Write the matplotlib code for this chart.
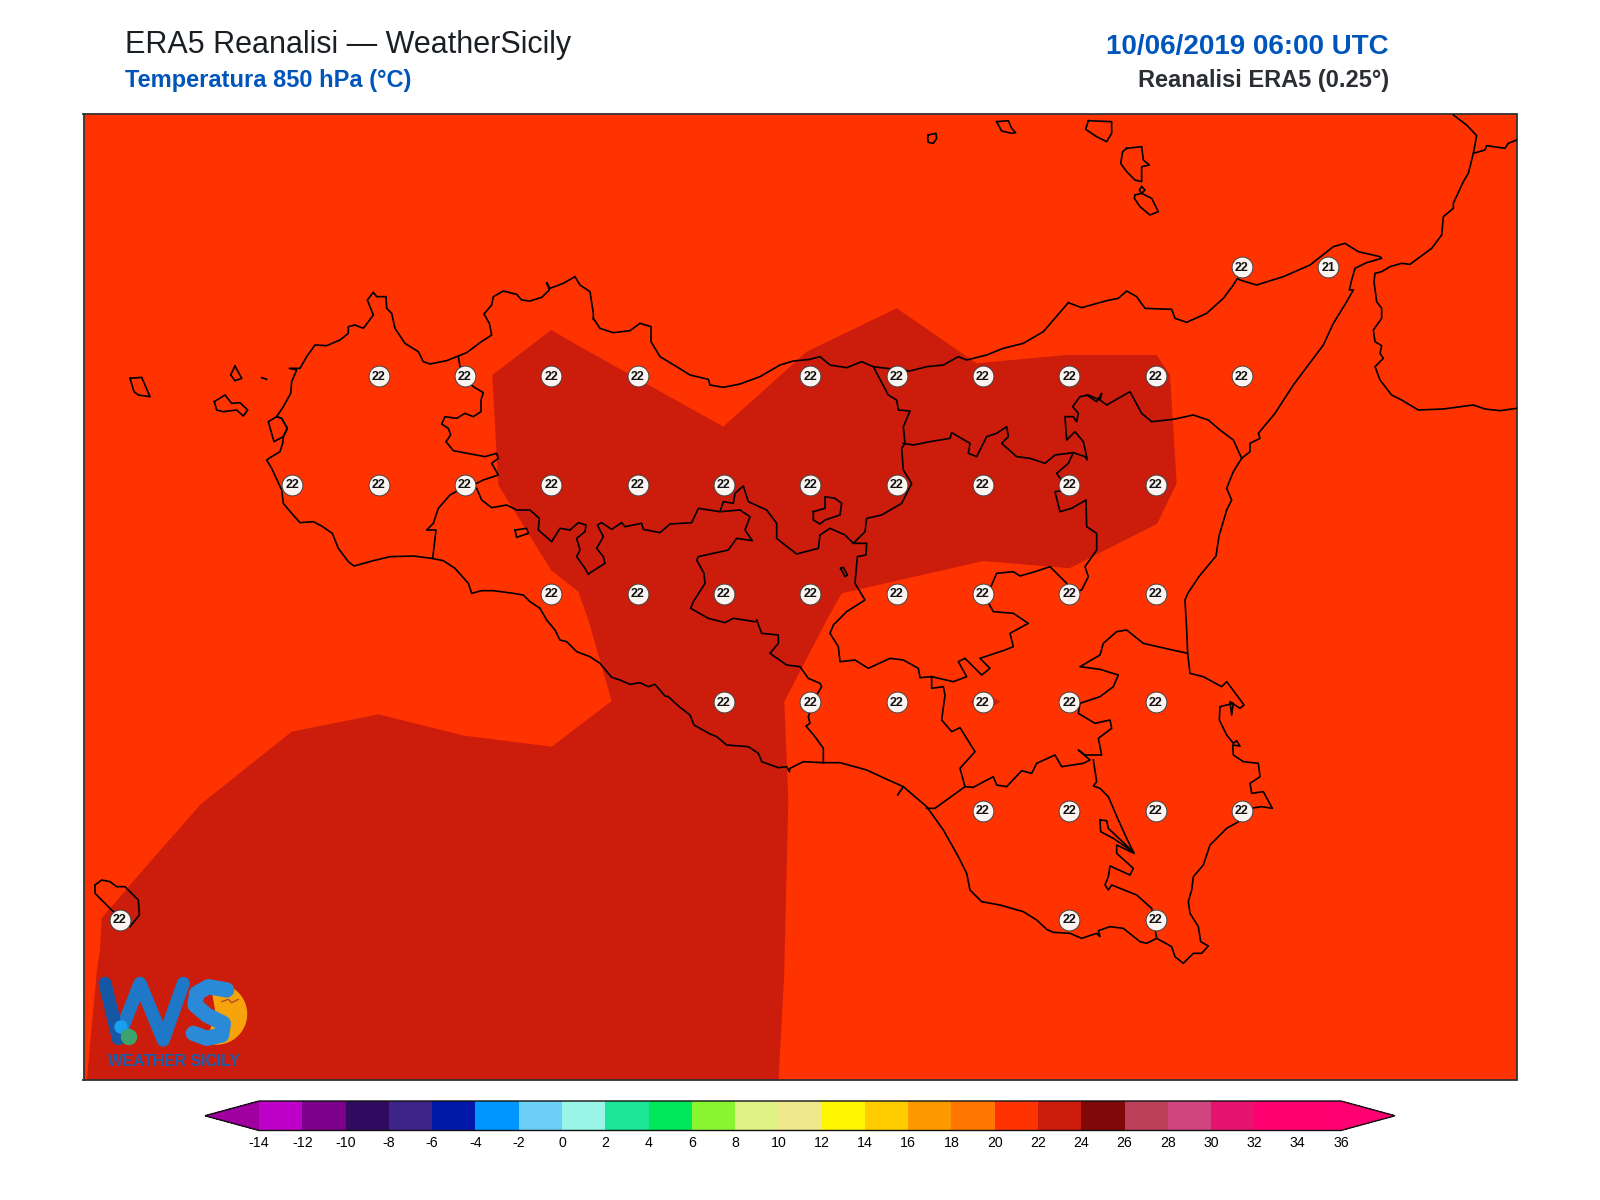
import numpy as np
import matplotlib
matplotlib.use("Agg")
import matplotlib.pyplot as plt
from matplotlib.colors import ListedColormap, BoundaryNorm
from matplotlib.cm import ScalarMappable
from matplotlib.patches import Circle, Wedge

plt.rcParams['font.family'] = ['Liberation Sans', 'DejaVu Sans']
plt.rcParams['axes.unicode_minus'] = False

# temperature classes for the colour bar
levels = list(range(-14, 38, 2))
level_colors = ['#BE00C8', '#7D008C', '#2F0A5E', '#3E2388', '#0019A8', '#0096FF',
                '#6CCFF6', '#98F5E8', '#1BE596', '#00E85A', '#88F530', '#E0F285',
                '#F0E98C', '#FFF500', '#FFCC00', '#FF9900', '#FF7700', '#FF3300',
                '#CC1C0C', '#800808', '#BC3F5A', '#D04480', '#E6146E', '#FF0070',
                '#FF0070']
under_color = '#A000A0'
over_color = '#FF0073'
base_color = '#FF3300'
warm_color = '#CC1C0C'

# grid point labels, one row per latitude
row_lats = [38.25, 38.0, 37.75, 37.5, 37.25, 37.0, 36.75]
row_lons = [[15.25, 15.5],
            [12.75, 13.0, 13.25, 13.5, 14.0, 14.25, 14.5, 14.75, 15.0, 15.25],
            [12.5, 12.75, 13.0, 13.25, 13.5, 13.75, 14.0, 14.25, 14.5, 14.75, 15.0],
            [13.25, 13.5, 13.75, 14.0, 14.25, 14.5, 14.75, 15.0],
            [13.75, 14.0, 14.25, 14.5, 14.75, 15.0],
            [14.5, 14.75, 15.0, 15.25],
            [12.0, 14.75, 15.0]]
row_vals = [[22, 21],
            [22] * 10,
            [22] * 11,
            [22] * 8,
            [22] * 6,
            [22] * 4,
            [22] * 3]

# 22-24 C area, map pixels
warm_area = [(492.3, 375), (551.3, 330), (580, 346.7), (723.3, 426.7), (806.7, 351.7),
             (896.7, 308.3), (976.7, 363.3), (1066.7, 355), (1156.7, 355), (1170, 375),
             (1176.7, 483.3), (1157, 524), (1069.3, 568.3), (983.3, 561), (841.7, 593.3),
             (826.7, 620), (784.3, 701.7), (788.3, 800), (784, 980), (778.5, 1081),
             (86.7, 1081), (97, 969), (100, 950), (101.7, 918), (151.7, 860), (201, 804),
             (291.8, 731.6), (378.6, 714.3), (464.3, 735.7), (551.7, 746.7), (611.7, 701),
             (588.3, 620), (578.3, 591.7), (551, 570), (498.3, 485)]
warm_spot = [(970, 701.7), (983, 693), (1000.7, 701.7), (983, 712)]

w_coast = [(1380, 1105), (1350, 1085), (1330, 1065), (1300, 1060), (1240, 1052), (1205, 1052), (1175, 1060),
           (1165, 1030), (1125, 985), (1090, 962), (1055, 955), (1000, 948), (930, 950), (880, 962), (822, 978),
           (805, 965), (775, 925), (757, 880), (725, 858), (700, 845), (660, 848), (635, 820), (610, 790),
           (605, 750), (575, 685), (560, 660), (575, 650), (600, 635), (608, 610), (610, 590), (622, 565),
           (605, 535), (590, 530), (610, 500), (632, 460), (635, 425), (650, 390), (628, 385), (660, 385),
           (680, 350), (705, 315), (740, 317), (780, 300), (805, 280), (805, 260), (825, 255), (850, 265),
           (880, 225), (862, 180), (880, 157), (890, 170), (918, 170), (920, 205), (935, 220), (945, 265),
           (975, 310), (1015, 335), (1030, 365), (1050, 372), (1100, 362), (1160, 338), (1200, 308), (1235, 285),
           (1228, 250), (1212, 222), (1235, 195), (1240, 170), (1270, 153), (1310, 163), (1325, 180), (1350, 183),
           (1385, 172), (1408, 150), (1400, 128), (1410, 145), (1450, 130), (1485, 110), (1500, 135), (1530, 155),
           (1540, 220), (1540, 238)]
stagnone = [(590, 530), (565, 545), (572, 570), (582, 605), (610, 590), (622, 565), (605, 535), (590, 530)]
n_coast = [(40, 55), (60, 85), (100, 98), (150, 92), (180, 70), (213, 80), (213, 125), (240, 170), (290, 200),
           (330, 225), (385, 238), (390, 255), (430, 262), (480, 252), (540, 230), (600, 195), (640, 183),
           (690, 178), (720, 170), (750, 195), (800, 203), (845, 185), (880, 200), (920, 205), (990, 213),
           (1040, 200), (1090, 195), (1135, 170), (1160, 180), (1220, 165), (1270, 145), (1330, 130), (1390, 95),
           (1465, 8)]
ne_coast = [(205, 578), (245, 593), (320, 572), (355, 565), (380, 543), (410, 560), (435, 595), (515, 598),
            (525, 625), (560, 637), (620, 610), (670, 565), (700, 525), (712, 505), (720, 510), (770, 525),
            (850, 500), (930, 465), (1000, 410), (1035, 400), (1075, 425), (1140, 440), (1145, 445), (1100, 458),
            (1065, 475), (1055, 510), (1048, 540), (1060, 540), (1040, 575), (1000, 640), (970, 705), (925, 765),
            (880, 825), (825, 910), (775, 970), (780, 985), (750, 1000), (750, 1025), (725, 1045), (700, 1085),
            (680, 1135), (695, 1170), (680, 1200)]
etna_coast = [(1226.7, 510), (1219, 536), (1216, 556), (1199, 576.5), (1196.7, 580), (1188, 593), (1185, 600)]
se_coast = [(1275, 60), (1280, 150), (1283, 220), (1290, 280), (1330, 290), (1385, 320), (1400, 305), (1430, 345),
            (1452, 375), (1440, 385), (1410, 365), (1415, 405), (1420, 370), (1380, 380), (1378, 420), (1400, 465),
            (1420, 490), (1430, 482), (1440, 498), (1418, 495), (1420, 525), (1450, 545), (1495, 550), (1500, 590),
            (1470, 610), (1475, 640), (1510, 635), (1537, 685), (1505, 680), (1470, 685), (1445, 720), (1400, 745),
            (1350, 795), (1330, 855), (1300, 890), (1295, 930), (1285, 965), (1290, 1000), (1315, 1040), (1322, 1085),
            (1345, 1098), (1325, 1120), (1300, 1120), (1270, 1150), (1245, 1130), (1235, 1100), (1190, 1075),
            (1160, 1090), (1140, 1085), (1090, 1045), (1050, 1040), (1015, 1052), (1020, 1070), (1010, 1060),
            (965, 1075), (930, 1060), (880, 1057), (860, 1048), (830, 1020), (790, 995), (720, 975), (665, 965),
            (630, 930), (620, 880), (595, 830), (550, 750), (500, 680), (430, 620), (385, 600), (320, 570),
            (240, 548), (190, 548)]
s_coast = [(850, 428), (790, 425), (750, 445), (748, 455), (740, 440), (715, 443), (665, 425), (655, 400), (625, 380),
           (560, 375), (530, 350), (510, 342), (462, 315), (450, 285), (420, 262), (385, 230), (375, 228), (345, 193),
           (325, 200), (300, 188), (270, 193), (240, 180), (215, 172), (180, 130), (150, 110), (110, 95), (80, 65),
           (60, 60), (45, 30), (20, 0), (0, -35)]
tp_border = [(1135, 350), (1140, 380), (1155, 410), (1180, 440), (1210, 458), (1203, 480), (1203, 515), (1180, 530),
             (1155, 520), (1130, 535), (1095, 530), (1085, 552), (1105, 565), (1112, 585), (1098, 605), (1120, 632),
             (1215, 650), (1250, 640), (1255, 655), (1235, 670), (1255, 705), (1210, 720), (1190, 730), (1155, 740),
             (1110, 765), (1075, 805), (1060, 850), (1040, 870), (1068, 870), (1058, 955)]
pa_border_w = [(1190, 745), (1205, 780), (1235, 803), (1280, 795), (1310, 810), (1350, 810), (1378, 835), (1375, 870),
               (1415, 905), (1440, 865), (1470, 870), (1495, 848), (1518, 855), (1515, 875), (1490, 895), (1500, 930),
               (1490, 950), (1515, 985), (1525, 1003)]
pa_border_e = [(25, 822), (75, 790), (70, 770), (50, 745), (70, 710), (52, 675), (65, 668), (95, 688), (125, 668),
               (135, 680), (185, 670), (190, 688), (240, 698), (270, 672), (335, 668), (355, 625), (420, 635), (430, 605),
               (460, 610), (465, 580), (490, 558), (505, 605), (560, 630), (590, 670), (590, 715), (615, 735), (650, 762),
               (715, 745), (720, 705), (750, 685), (795, 705), (820, 730), (855, 695), (860, 655), (905, 645), (965, 610),
               (995, 550), (970, 510), (965, 445), (975, 430), (970, 380), (990, 333), (955, 330), (950, 300), (925, 285),
               (880, 200)]
ag_border = [(420, 635), (480, 630), (510, 650), (495, 690), (517, 722), (470, 715), (445, 750), (355, 770), (350, 780),
             (372, 820), (375, 850), (340, 905), (332, 925), (385, 955), (435, 968), (460, 955), (525, 965)]
ag_border_s = [(650, 0), (665, 40), (715, 45), (715, 70), (690, 100), (740, 135), (780, 140), (805, 175), (840, 190),
               (845, 200), (830, 225), (805, 290), (810, 310), (798, 318), (825, 350), (850, 385), (850, 428)]
cl_border = [(820, 730), (860, 730), (858, 765), (832, 770), (825, 850), (855, 900), (800, 935), (760, 975), (750, 1000),
             (775, 1040), (780, 1085), (825, 1080), (865, 1105), (930, 1075), (970, 1080), (1015, 1105), (1020, 1133),
             (1055, 1130), (1120, 1145), (1160, 1130), (1135, 1085), (1155, 1075), (1205, 1125), (1230, 1105), (1200, 1075),
             (1275, 1050), (1300, 1040), (1290, 1000), (1345, 970), (1300, 940), (1240, 935), (1215, 890), (1235, 855),
             (1250, 820), (1300, 815), (1320, 828), (1365, 815), (1410, 800), (1460, 850), (1468, 880)]
en_border = [(970, 430), (1000, 435), (1050, 425), (1110, 415), (1115, 398), (1170, 430), (1165, 460), (1190, 470),
             (1220, 410), (1250, 400), (1280, 380), (1285, 410), (1265, 430), (1310, 470), (1350, 475), (1395, 490),
             (1425, 465), (1480, 458), (1515, 470), (1522, 480), (1510, 425), (1485, 395), (1460, 420), (1455, 350),
             (1480, 350), (1490, 365), (1495, 340), (1478, 320), (1500, 290), (1525, 285), (1560, 300)]
me_border = [(300, 870), (320, 885), (390, 845), (425, 910), (455, 935), (520, 928), (580, 915), (625, 930), (660, 960),
             (700, 990), (725, 1045)]
me_border_w = [(300, 870), (305, 850), (290, 875), (260, 855)]
ct_border = [(1480, 458), (1465, 490), (1430, 520), (1465, 570), (1425, 575), (1440, 635), (1475, 625), (1518, 600),
             (1520, 680), (1550, 700), (1550, 750), (1515, 800), (1525, 830), (1505, 870), (1468, 880)]
cl_border_s = [(515, 290), (515, 325), (550, 320), (555, 345), (545, 420), (575, 455), (600, 443), (645, 515), (600, 565),
               (615, 620), (525, 685), (500, 685)]
rg_border = [(615, 620), (640, 622), (700, 590), (710, 615), (740, 620), (785, 572), (815, 580), (830, 550), (885, 525),
             (905, 560), (970, 550), (990, 540), (955, 510), (975, 525), (1025, 525), (1015, 475), (1055, 445), (1050, 420),
             (1005, 430), (955, 400), (960, 370), (1020, 350), (1060, 320), (1075, 285), (1020, 268), (960, 260), (1020, 225),
             (1030, 190), (1070, 155), (1100, 150), (1150, 190), (1215, 205), (1283, 220)]
sr_border = [(1000, 540), (1010, 605), (1000, 618), (1020, 625), (1045, 650), (1075, 720), (1100, 775), (1122, 820),
             (1070, 795), (1070, 820), (1120, 865), (1110, 885), (1050, 858), (1045, 890), (1035, 915), (1045, 930),
             (1055, 915), (1130, 945), (1175, 985), (1190, 1075)]
sr_lake = [(1020, 720), (1040, 722), (1045, 745), (1122, 818), (1060, 775), (1022, 755), (1020, 720)]
coast_tick = [(430, 620), (413, 645)]
pa_enclave = [(700, 635), (735, 625), (735, 590), (765, 595), (785, 610), (780, 645), (735, 660), (720, 672), (700, 660), (700, 635)]
tp_enclave = [(1305, 870), (1340, 865), (1345, 880), (1310, 892), (1305, 870)]
lake = [(782, 805), (790, 802), (802, 825), (795, 830), (782, 805)]
marettimo = [(150, 415), (185, 412), (210, 470), (175, 465), (162, 455), (150, 415)]
levanzo = [(465, 378), (485, 415), (465, 422), (452, 405), (465, 378)]
favignana = [(403, 485), (435, 465), (455, 490), (480, 488), (503, 510), (490, 528), (470, 510), (430, 515), (410, 510), (403, 485)]
formica = [(545, 413), (560, 418)]
alicudi = [(85, 75), (108, 70), (110, 85), (100, 100), (85, 97), (83, 85), (85, 75)]
filicudi = [(290, 35), (325, 32), (335, 55), (347, 68), (335, 70), (305, 63), (290, 35)]
salina = [(565, 32), (635, 35), (635, 70), (620, 95), (590, 80), (557, 58), (565, 32)]
lipari = [(680, 115), (725, 110), (730, 150), (748, 165), (725, 170), (725, 215), (705, 210), (680, 185), (662, 160), (668, 125), (680, 115)]
vulcanello = [(725, 230), (735, 240), (725, 250), (718, 240), (725, 230)]
vulcano = [(705, 255), (725, 250), (755, 265), (775, 305), (750, 315), (720, 290), (703, 265), (705, 255)]
pantelleria = [(45, 75), (65, 60), (90, 65), (110, 80), (135, 80), (175, 120), (178, 165), (150, 200), (95, 150), (65, 120), (45, 100), (45, 75)]
calabria = [(280, 30), (320, 60), (350, 92), (340, 145), (325, 205), (310, 230), (280, 295), (280, 310), (250, 335), (245, 390),
            (215, 430), (150, 478), (125, 475), (90, 485), (65, 500), (45, 505), (42, 530), (50, 590), (65, 610), (65, 640),
            (40, 675), (45, 710), (65, 722), (60, 745), (70, 760), (45, 785), (60, 825), (95, 870), (125, 885), (175, 915),
            (250, 912), (340, 900), (375, 912), (420, 917), (470, 910)]
calabria_top = [(340, 145), (375, 135), (380, 122), (435, 130), (445, 115), (470, 105)]

lines = [(80, 240, w_coast), (80, 240, stagnone), (580, 300, n_coast), (1000, 110, ne_coast), (0, 0, etna_coast),
         (760, 580, se_coast), (540, 620, s_coast), (80, 240, tp_border), (80, 240, pa_border_w), (580, 300, pa_border_e),
         (580, 300, ag_border), (540, 620, ag_border_s), (580, 300, cl_border), (580, 300, en_border), (1000, 110, me_border),
         (1000, 110, me_border_w), (580, 300, ct_border), (760, 580, cl_border_s), (760, 580, rg_border), (760, 580, sr_border),
         (760, 580, sr_lake), (760, 580, coast_tick), (580, 300, pa_enclave), (80, 240, tp_enclave), (580, 300, lake),
         (80, 240, marettimo), (80, 240, levanzo), (80, 240, favignana), (80, 240, formica), (900, 110, alicudi),
         (900, 110, filicudi), (900, 110, salina), (900, 110, lipari), (900, 110, vulcanello), (900, 110, vulcano),
         (80, 860, pantelleria), (1360, 105, calabria), (1360, 105, calabria_top)]

# logo strokes, 3x tile at (80, 940)
logo_w_left = [(75, 130), (115, 295)]
logo_w_rest = [(115, 295), (180, 130), (250, 300), (310, 130)]
logo_s = [(440, 150), (385, 140), (350, 160), (345, 195), (380, 225), (430, 250), (425, 285), (380, 295), (340, 280)]
logo_bird = [(425, 185), (445, 178), (455, 188), (475, 178)]


def to_map(x0, y0, pts):
    pts = np.array(pts, dtype=float)
    if x0 == 0 and y0 == 0:
        return pts[:, 0], pts[:, 1]
    return x0 + pts[:, 0] / 3, y0 + pts[:, 1] / 3


def lon_x(lon):
    return 292.3 + (lon - 12.5) * 345.3


def lat_y(lat):
    return 376 + (38.0 - lat) * 435


W, H = 1600, 1200
fig = plt.figure(figsize=(16, 12), dpi=100, facecolor='white')
L, R, T, B = 83.5, 1516.5, 114, 1080
ax = fig.add_axes([L / W, 1 - B / H, (R - L) / W, (B - T) / H])
ax.set_xlim(L, R)
ax.set_ylim(B, T)
ax.set_facecolor(base_color)
ax.set_xticks([])
ax.set_yticks([])
for s in ax.spines.values():
    s.set_color('#333333')
    s.set_linewidth(1.3)

ax.fill(*zip(*warm_area), color=warm_color, lw=0, zorder=1)
ax.fill(*zip(*warm_spot), color=warm_color, lw=0, zorder=1)

for x0, y0, pts in lines:
    xs, ys = to_map(x0, y0, pts)
    ax.plot(xs, ys, color='black', lw=1.2, solid_joinstyle='round', zorder=3)

for lat, lons, vals in zip(row_lats, row_lons, row_vals):
    for lon, v in zip(lons, vals):
        x, y = lon_x(lon), lat_y(lat)
        ax.scatter([x], [y], s=225, facecolor='#FBF4F1', edgecolor='#444444', linewidth=0.7, zorder=4)
        ax.text(x, y + 0.5, str(v), ha='center', va='center', fontsize=9, fontweight='bold', color='#111111', zorder=5)

# logo
ax.add_patch(Wedge((216.5, 1014), 30, -100, 110, color='#F7A30C', zorder=6))
ax.add_patch(Circle((121, 1027), 6, color='#1AA0EE', zorder=8))
ax.add_patch(Circle((129, 1037), 7.5, color='#3BA36B', zorder=8))
for pts, col, lw in [(logo_w_rest, '#1F77C8', 9.5), (logo_w_left, '#1557A5', 9.5), (logo_s, '#2A8AD8', 11), (logo_bird, '#B5472A', 1)]:
    xs, ys = to_map(80, 940, pts)
    ax.plot(xs, ys, color=col, lw=lw, solid_capstyle='round', solid_joinstyle='round', zorder=7)
ax.text(174, 1061, 'WEATHER SICILY', ha='center', va='center', fontsize=11.3, fontweight='bold', color='#1560B0', zorder=7)

# colour bar, the axes also hold the two end arrows
cmap = ListedColormap(level_colors)
cmap.set_under(under_color)
cmap.set_over(over_color)
norm = BoundaryNorm(levels, cmap.N)
cax = fig.add_axes([205 / W, 1 - 1130.5 / H, (1395 - 205) / W, 29.5 / H])
cb = fig.colorbar(ScalarMappable(norm=norm, cmap=cmap), cax=cax, orientation='horizontal',
                  extend='both', extendfrac=0.05, ticks=levels, spacing='uniform', drawedges=False)
cb.ax.tick_params(length=0, labelsize=10.2, pad=4)
cb.outline.set_linewidth(1.0)
cb.outline.set_edgecolor('#111111')

# headers
fig.text(125 / W, 1 - 53.5 / H, 'ERA5 Reanalisi \u2014 WeatherSicily', fontsize=22, color='#1A1F24', va='baseline')
fig.text(125 / W, 1 - 87 / H, 'Temperatura 850 hPa (\u00b0C)', fontsize=17, fontweight='bold', color='#0055BB', va='baseline')
fig.text(1389 / W, 1 - 54 / H, '10/06/2019 06:00 UTC', fontsize=20, fontweight='bold', color='#0055BB', ha='right', va='baseline')
fig.text(1389 / W, 1 - 87 / H, 'Reanalisi ERA5 (0.25\u00b0)', fontsize=17, fontweight='bold', color='#2B2F33', ha='right', va='baseline')

fig.savefig('out.png', dpi=100)
